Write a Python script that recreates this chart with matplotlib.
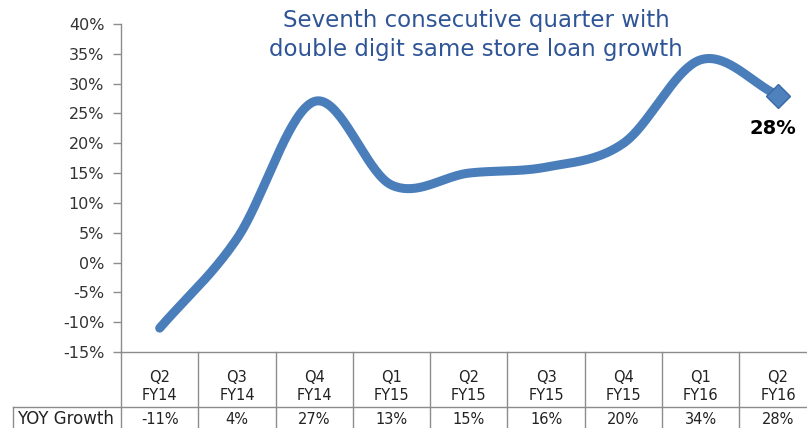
import numpy as np
import matplotlib
matplotlib.use("Agg")
import matplotlib.pyplot as plt
from matplotlib.transforms import blended_transform_factory
from matplotlib.lines import Line2D

quarters = ["Q2", "Q3", "Q4", "Q1", "Q2", "Q3", "Q4", "Q1", "Q2"]
fiscal_years = ["FY14", "FY14", "FY14", "FY15", "FY15", "FY15", "FY15", "FY16", "FY16"]
growth = [-11, 4, 27, 13, 15, 16, 20, 34, 28]
growth_labels = ["-11%", "4%", "27%", "13%", "15%", "16%", "20%", "34%", "28%"]
yticks = [-15, -10, -5, 0, 5, 10, 15, 20, 25, 30, 35, 40]
title = "Seventh consecutive quarter with\ndouble digit same store loan growth"

W, H = 807, 428
fig = plt.figure(figsize=(W / 100, H / 100), dpi=100)
left_px, axis_y_px, top_px = 121, 352, 24
col_w = 77.3
right_px = left_px + 9 * col_w
ax = fig.add_axes([left_px / W, 1 - axis_y_px / H, (right_px - left_px) / W,
                   (axis_y_px - top_px) / H])
ax.set_xlim(-0.5, 8.5)
ax.set_ylim(-15, 40)

grey = "#8c8c8c"
for s in ["top", "right"]:
    ax.spines[s].set_visible(False)
ax.spines["left"].set_color(grey)
ax.spines["bottom"].set_color(grey)
ax.spines["left"].set_linewidth(1.0)
ax.spines["bottom"].set_linewidth(1.0)
ax.set_xticks([])
ax.set_yticks(yticks)
ax.set_yticklabels([f"{v}%" for v in yticks], fontsize=11.5, color="#333333",
                   family="DejaVu Sans")
ax.tick_params(axis="y", length=6, color=grey, width=1, pad=6)

# smooth curve (Catmull-Rom rendering of the data points)
x = np.arange(len(growth), dtype=float)
y = np.array(growth, dtype=float)
px = np.concatenate([[2 * x[0] - x[1]], x, [2 * x[-1] - x[-2]]])
py = np.concatenate([[2 * y[0] - y[1]], y, [2 * y[-1] - y[-2]]])
xs, ys = [], []
t = np.linspace(0, 1, 40)
for i in range(1, len(px) - 2):
    p0, p1, p2, p3 = [np.array([px[j], py[j]]) for j in range(i - 1, i + 3)]
    m1 = (p2 - p0) / 2
    m2 = (p3 - p1) / 2
    h00 = 2 * t**3 - 3 * t**2 + 1
    h10 = t**3 - 2 * t**2 + t
    h01 = -2 * t**3 + 3 * t**2
    h11 = t**3 - t**2
    seg = (np.outer(h00, p1) + np.outer(h10, m1) + np.outer(h01, p2) + np.outer(h11, m2))
    xs.extend(seg[:, 0]); ys.extend(seg[:, 1])
line_color = "#4a7ebb"
ax.plot(xs, ys, color=line_color, lw=6.5, solid_capstyle="round", clip_on=False)
ax.plot([x[-1]], [y[-1]], marker="D", ms=12, color="#4f81bd",
        markeredgecolor="#3a6aa5", clip_on=False)
ax.annotate(growth_labels[-1], (x[-1], y[-1]), xytext=(-4, -24),
            textcoords="offset points", ha="center", va="center",
            fontsize=14, fontweight="bold", color="black")

# title
fig.text(476 / W, 1 - 35 / H, title, ha="center", va="center", fontsize=16.5,
         color="#2f5597", linespacing=1.3, family="DejaVu Sans")

# table
tr = blended_transform_factory(ax.transData, fig.transFigure)
row1_y = 1 - 407 / H
table_color = "#8c8c8c"
for i in range(10):
    xb = i - 0.5
    ax.add_line(Line2D([xb, xb], [1 - axis_y_px / H, 0], transform=tr,
                       color=table_color, lw=1, clip_on=False))
fig.add_artist(Line2D([13 / W, 1.0], [row1_y, row1_y], color=table_color, lw=1))
fig.add_artist(Line2D([13 / W, 13 / W], [row1_y, 0], color=table_color, lw=1))
for i in range(len(quarters)):
    ax.text(i, 1 - 377 / H, quarters[i], transform=tr, ha="center", va="center",
            fontsize=10.5, color="#222222")
    ax.text(i, 1 - 395 / H, fiscal_years[i], transform=tr, ha="center", va="center",
            fontsize=10.5, color="#222222")
    ax.text(i, 1 - 419 / H, growth_labels[i], transform=tr, ha="center", va="center",
            fontsize=10.5, color="#222222")
fig.text(17 / W, 1 - 419 / H, "YOY Growth", ha="left", va="center", fontsize=12,
         color="#222222")

fig.savefig("out.png", dpi=100)
